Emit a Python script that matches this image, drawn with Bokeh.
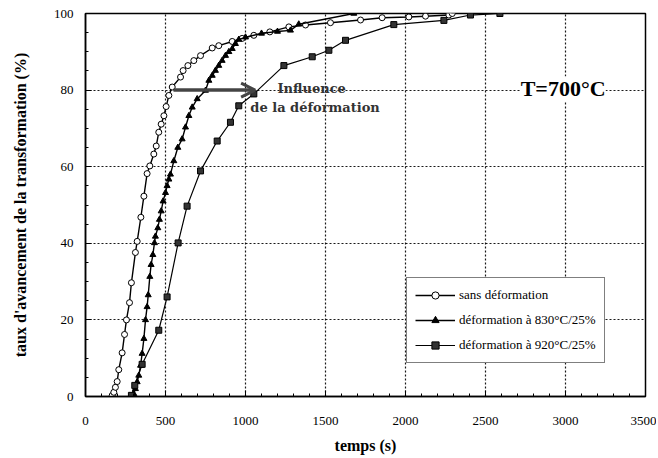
from bokeh.plotting import figure
from bokeh.models import (Range1d, Legend, LegendItem, Label, Arrow, OpenHead,
                          FixedTicker)
from bokeh.embed import file_html
from bokeh.resources import INLINE

# --- data ---
t_sans = [167, 177, 187, 198, 208, 229, 244, 256, 275, 287, 312, 323, 346, 365, 385,
          402, 427, 442, 458, 473, 490, 504, 521, 542, 594, 610, 640, 677, 719, 792,
          833, 917, 979, 1052, 1152, 1271, 1375, 1531, 1719, 1854, 2021, 2125, 2271, 2292]
p_sans = [0.3, 1.1, 2.4, 3.9, 7.0, 11.4, 16.2, 20.0, 24.5, 29.7, 37.6, 40.5, 46.8, 52.3, 58.2,
          60.2, 63.3, 65.4, 69.0, 71.1, 73.3, 75.7, 78.6, 80.8, 83.4, 85.1, 86.4, 87.7, 89.0, 91.0,
          91.6, 92.7, 93.5, 94.3, 95.2, 96.5, 97.0, 97.6, 98.3, 98.9, 99.1, 99.3, 99.6, 100.0]

t_830 = [292, 302, 312, 323, 333, 344, 354, 365, 375, 385, 392, 402, 410, 421, 431, 437,
         452, 462, 473, 485, 500, 510, 521, 531, 552, 577, 604, 625, 646, 667, 698, 750,
         771, 792, 812, 833, 854, 875, 896, 917, 937, 958, 1000, 1100, 1200, 1281, 1333, 1677]
p_830 = [0.0, 0.7, 2.0, 3.8, 5.5, 8.1, 11.2, 15.1, 20.0, 23.4, 26.5, 31.3, 34.4, 37.0, 40.1, 41.8,
         44.0, 46.2, 48.4, 51.0, 53.2, 55.0, 56.7, 58.0, 61.5, 65.0, 67.2, 70.3, 73.3, 75.5, 77.7, 79.9,
         82.5, 83.8, 85.1, 86.4, 87.7, 89.0, 90.0, 90.8, 92.1, 93.2, 93.8, 94.8, 95.3, 95.6, 97.2, 100.0]

t_920 = [287, 308, 354, 458, 510, 579, 635, 719, 823, 906, 958, 1052, 1240, 1417, 1521,
         1625, 1927, 2240, 2406, 2590]
p_920 = [0.3, 2.9, 8.4, 17.3, 26.0, 40.1, 49.7, 58.9, 66.7, 71.6, 75.9, 79.0, 86.4, 88.7, 90.4,
         93.0, 97.1, 98.2, 99.6, 100.0]

x_ticks = [0, 500, 1000, 1500, 2000, 2500, 3000, 3500]
y_ticks = [0, 20, 40, 60, 80, 100]

serif = "Liberation Serif"

p = figure(width=656, height=456, output_backend="svg", toolbar_location=None,
           x_range=Range1d(0, 3500), y_range=Range1d(0, 100),
           min_border_left=85, min_border_right=11, min_border_top=13, min_border_bottom=60)
p.background_fill_color = "white"
p.border_fill_color = "white"
p.outline_line_color = "black"
p.outline_line_width = 1.5

# axes
p.xaxis.ticker = FixedTicker(ticks=x_ticks, minor_ticks=list(range(0, 3501, 100)))
p.yaxis.ticker = FixedTicker(ticks=y_ticks, minor_ticks=list(range(0, 101, 5)))
for ax in (p.xaxis[0], p.yaxis[0]):
    ax.axis_line_color = "black"
    ax.axis_line_width = 1.5
    ax.major_tick_in = 6
    ax.major_tick_out = 0
    ax.minor_tick_in = 3
    ax.minor_tick_out = 0
    ax.major_tick_line_color = "black"
    ax.minor_tick_line_color = "black"
    ax.major_label_text_font = serif
    ax.major_label_text_font_size = "13px"
    ax.major_label_text_color = "black"
    ax.axis_label_text_font = serif
    ax.axis_label_text_font_style = "bold"
    ax.axis_label_text_font_size = "16px"
    ax.axis_label_text_color = "black"
p.xaxis.axis_label = "temps (s)"
p.yaxis.axis_label = "taux d'avancement de la transformation (%)"
p.xaxis.major_label_standoff = 20
p.yaxis.major_label_standoff = 12
p.xaxis.axis_label_standoff = 9
p.yaxis.axis_label_standoff = 22

# grid
p.xgrid.ticker = FixedTicker(ticks=x_ticks)
p.ygrid.ticker = FixedTicker(ticks=y_ticks)
for g in (p.xgrid[0], p.ygrid[0]):
    g.grid_line_color = "black"
    g.grid_line_dash = "2 2"
    g.grid_line_width = 1.2
    g.grid_line_alpha = 0.9

# series
l1 = p.line(t_sans, p_sans, line_color="black", line_width=1.4)
s1 = p.scatter(t_sans, p_sans, marker="circle", size=6, fill_color="white",
               line_color="black", line_width=1)
l2 = p.line(t_830, p_830, line_color="black", line_width=1.4)
s2 = p.scatter(t_830, p_830, marker="triangle", size=6, fill_color="black",
               line_color="black")
l3 = p.line(t_920, p_920, line_color="black", line_width=1.2)
s3 = p.scatter(t_920, p_920, marker="square", size=6, fill_color="#333333",
               line_color="black")

# arrow + annotations
ARROW_Y = 80
ARROW_X0, ARROW_X1 = 550, 1060
p.add_layout(Arrow(end=OpenHead(size=14, line_color="#444444", line_width=3),
                   x_start=ARROW_X0, y_start=ARROW_Y, x_end=ARROW_X1, y_end=ARROW_Y,
                   line_color="#444444", line_width=3.5))
ann_font = "DejaVu Serif"
p.add_layout(Label(x=1200, y=80.3, text="Influence", text_font=ann_font,
                   text_font_style="bold", text_font_size="13px", text_color="#333333",
                   text_baseline="middle"))
p.add_layout(Label(x=1030, y=75.4, text="de la déformation", text_font=ann_font,
                   text_font_style="bold", text_font_size="13px", text_color="#333333",
                   text_baseline="middle"))
p.add_layout(Label(x=2720, y=80.3, text="T=700°C", text_font=serif,
                   text_font_style="bold", text_font_size="22px", text_color="black",
                   text_baseline="middle", background_fill_color="white"))

legend = Legend(items=[
    LegendItem(label="sans déformation", renderers=[l1, s1]),
    LegendItem(label="déformation à 830°C/25%", renderers=[l2, s2]),
    LegendItem(label="déformation à 920°C/25%", renderers=[l3, s3]),
], location=(321, 33))
legend.label_text_font = serif
legend.label_text_font_size = "13px"
legend.label_text_color = "black"
legend.border_line_color = "black"
legend.border_line_width = 1.5
legend.background_fill_color = "white"
legend.background_fill_alpha = 1
legend.glyph_width = 40
legend.glyph_height = 18
legend.label_height = 18
legend.spacing = 7
legend.padding = 8
legend.margin = 0
legend.label_standoff = 4
p.add_layout(legend, "center")

open("out.html", "w").write(file_html(p, INLINE))
